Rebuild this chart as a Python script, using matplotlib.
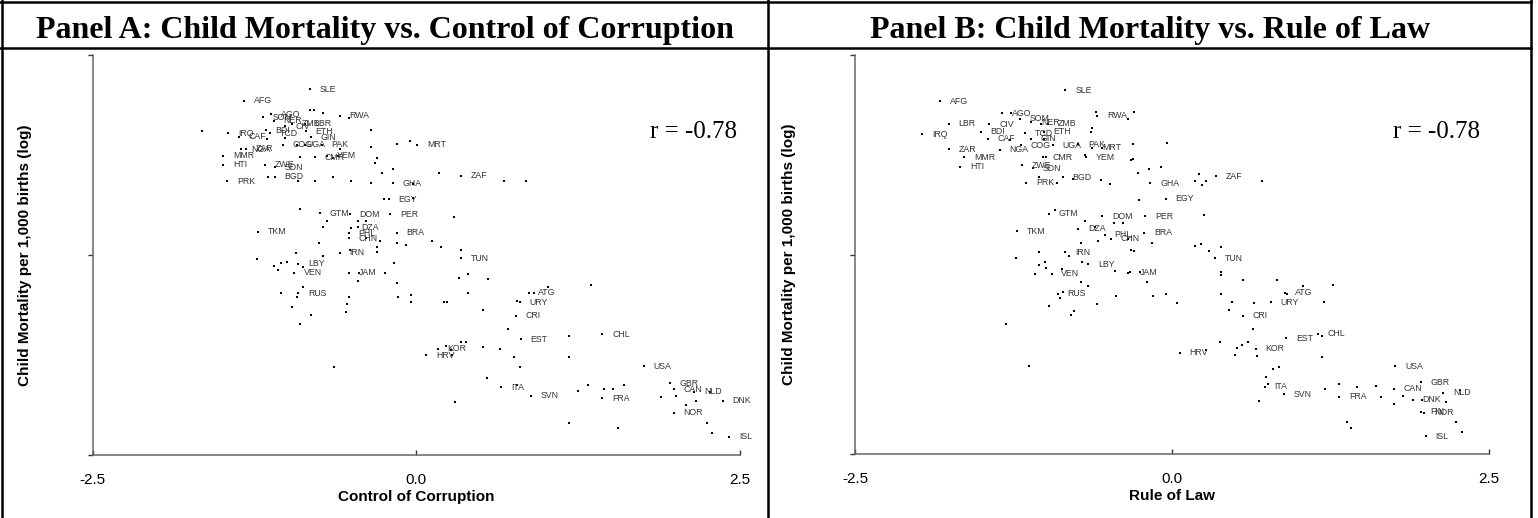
import matplotlib
matplotlib.use("Agg")
import matplotlib.pyplot as plt
from matplotlib.lines import Line2D

plt.rcParams['font.family'] = ['Liberation Sans', 'DejaVu Sans']

# ---- Panel A: control of corruption vs log child mortality ----
lab_a = ["SLE", "AFG", "", "", "", "RWA", "", "AGO", "SOM", "NER", "CIV", "ZMB", "LBR",
         "", "IRQ", "CAF", "BDI", "TCD", "", "", "ETH", "GIN", "", "COG", "UGA", "", "PAK",
         "", "", "", "NGA", "ZAR", "MMR", "HTI", "", "CMR", "YEM", "", "", "", "",
         "ZWE", "SDN", "", "", "", "BGD", "", "PRK", "", "", "", "", "GHA", "", "EGY",
         "", "GTM", "", "DOM", "", "", "PER", "", "DZA", "", "TKM", "PHL", "CHN", "", "",
         "BRA", "", "", "", "", "IRN", "", "", "", "", "", "", "", "LBY", "", "", "VEN",
         "JAM", "", "", "", "", "", "", "RUS", "", "", "", "", "", "", "", "", "", "",
         "", "MRT", "", "ZAF", "", "", "", "", "", "", "", "", "", "TUN", "", "", "", "",
         "", "ATG", "", "", "", "", "", "", "", "URY", "", "CRI", "", "EST", "", "CHL",
         "", "", "KOR", "", "", "", "", "HRV", "", "", "", "", "USA", "", "", "ITA", "SVN",
         "", "", "", "", "", "FRA", "GBR", "CAN", "", "", "NLD", "", "", "DNK", "", "NOR",
         "", "", "", "", "", "ISL"]
cc_a = [-0.82, -1.33, -0.82, -0.79, -0.72, -0.59, -0.52, -1.12, -1.18, -1.10, -1.01, -0.96, -0.86,
        -1.65, -1.45, -1.37, -1.16, -1.13, -1.15, -1.01, -0.85, -0.81, -0.35, -1.03, -0.92, -0.86, -0.73,
        -0.59, -0.35, -0.15, -1.35, -1.31, -1.49, -1.49, -0.90, -0.78, -0.69, -0.64, -0.60, -0.30, -0.32,
        -1.17, -1.09, -0.18, -0.26, -1.14, -1.09, -0.91, -1.46, -0.78, -0.64, -0.50, -0.35, -0.18, -0.25, -0.21,
        -0.90, -0.74, -0.69, -0.51, -0.45, -0.39, -0.20, -0.72, -0.50, -0.45, -1.22, -0.52, -0.52, -0.39, -0.28,
        -0.15, -0.15, -0.75, -0.93, -0.72, -0.59, -0.51, -0.30, -0.30, -1.23, -1.10, -1.04, -1.00, -0.91, -0.87, -1.07, -0.94,
        -0.52, -0.44, -0.24, -0.17, -0.15, -0.87, -1.04, -0.91, -0.92, -0.52, -0.45, -0.14, -0.96, -0.53, -0.54, -0.81, -0.90, -0.63,
        -0.05, 0.01, 0.18, 0.35, 0.68, 0.85, -0.02, -0.02, 0.29, -0.08, 0.12, 0.19, 0.35, 0.35, 0.33, 0.40, 0.56, 1.35,
        1.02, 0.87, 0.91, -0.04, 0.40, -0.04, 0.22, 0.24, 0.78, 0.80, 0.52, 0.77, 0.71, 0.81, 1.18, 1.44,
        0.35, 0.39, 0.17, 0.23, 0.27, 0.52, 0.65, 0.08, 0.28, 0.76, 1.18, 0.80, 1.76, 0.55, 0.78, 0.66, 0.89,
        1.25, 1.33, 1.45, 1.52, 1.61, 1.44, 1.96, 1.99, 1.89, 2.01, 2.15, 2.27, 2.16, 2.37, 2.09, 1.99,
        0.30, 1.18, 1.56, 2.25, 2.29, 2.42]
cm_a = [5.57, 5.43, 5.31, 5.31, 5.27, 5.24, 5.21, 5.26, 5.22, 5.18, 5.11, 5.14, 5.14,
        5.05, 5.02, 4.98, 5.06, 5.02, 4.95, 4.96, 5.05, 4.97, 5.06, 4.88, 4.88, 4.88, 4.88,
        4.82, 4.85, 4.89, 4.82, 4.83, 4.74, 4.63, 4.72, 4.72, 4.74, 4.71, 4.74, 4.71, 4.65,
        4.63, 4.60, 4.58, 4.52, 4.48, 4.48, 4.42, 4.42, 4.43, 4.47, 4.43, 4.40, 4.40, 4.20, 4.20,
        4.07, 4.02, 3.93, 4.01, 3.92, 3.92, 4.01, 3.85, 3.84, 3.85, 3.79, 3.77, 3.71, 3.71, 3.68,
        3.78, 3.65, 3.65, 3.53, 3.49, 3.53, 3.56, 3.60, 3.54, 3.45, 3.36, 3.40, 3.41, 3.39, 3.35, 3.31, 3.28,
        3.28, 3.28, 3.28, 3.40, 3.15, 3.10, 3.03, 3.02, 2.98, 2.98, 3.17, 2.98, 2.85, 2.89, 2.79, 2.75, 2.64, 2.10,
        4.93, 4.88, 4.52, 4.49, 4.43, 4.43, 4.39, 4.21, 3.98, 3.63, 3.68, 3.60, 3.56, 3.46, 3.21, 3.26, 3.20, 3.13,
        3.10, 3.03, 3.02, 3.00, 3.02, 2.91, 2.91, 2.91, 2.93, 2.91, 2.81, 2.74, 2.58, 2.45, 2.49, 2.51,
        2.41, 2.41, 2.33, 2.36, 2.31, 2.35, 2.32, 2.25, 2.25, 2.22, 2.22, 2.10, 2.11, 1.96, 1.88, 1.85, 1.74,
        1.80, 1.88, 1.82, 1.83, 1.87, 1.71, 1.90, 1.82, 1.73, 1.74, 1.79, 1.79, 1.68, 1.68, 1.62, 1.53,
        1.66, 1.40, 1.34, 1.40, 1.28, 1.23]

# ---- Panel B: rule of law vs log child mortality ----
lab_b = ["SLE", "AFG", "AGO", "", "SOM", "", "RWA", "", "", "LBR", "CIV", "NER", "", "ZMB",
         "IRQ", "BDI", "TCD", "ETH", "", "", "", "CAF", "", "ZAR", "NGA", "COG", "GIN", "UGA",
         "PAK", "MRT", "", "", "", "MMR", "CMR", "", "", "YEM", "", "", "HTI", "ZWE", "SDN",
         "", "", "", "PRK", "", "", "BGD", "", "", "", "GHA", "", "EGY", "GTM", "", "", "DOM",
         "", "", "PER", "TKM", "DZA", "", "PHL", "CHN", "", "", "BRA", "", "", "", "", "IRN",
         "", "", "", "", "", "", "", "LBY", "", "VEN", "", "", "", "JAM", "", "", "", "", "RUS",
         "", "", "", "", "", "", "", "", "", "", "", "", "", "", "", "ZAF", "", "", "", "", "",
         "", "TUN", "", "", "", "", "", "", "ATG", "", "", "", "", "", "URY", "", "", "CRI",
         "", "EST", "CHL", "", "", "", "", "", "HRV", "", "", "KOR", "", "", "", "", "USA", "",
         "", "ITA", "SVN", "", "", "", "FRA", "", "", "", "CAN", "", "", "DNK", "GBR", "", "NLD",
         "", "", "FIN", "NOR", "", "", "", "", "ISL"]
rl_b = [-0.84, -1.83, -1.34, -1.27, -1.20, -0.60, -0.59, -0.35, -0.30, -1.76, -1.44, -1.11, -1.03, -0.98,
        -1.97, -1.51, -1.16, -1.01, -1.01, -0.63, -0.64, -1.45, -1.28, -1.76, -1.36, -1.19, -1.11, -0.94,
        -0.74, -0.63, -0.55, -0.31, -0.04, -1.64, -1.02, -0.99, -0.69, -0.68, -0.32, -0.31, -1.67, -1.18, -1.10,
        -0.18, -0.09, -0.27, -1.15, -1.05, -0.91, -0.86, -0.78, -0.56, -0.49, -0.17, -0.26, -0.05, -0.97, -0.92, -0.69, -0.55,
        -0.46, -0.39, -0.21, -1.22, -0.74, -0.61, -0.53, -0.48, -0.58, -0.35, -0.22, -0.16, -0.72, -0.32, -0.30, -0.84,
        -0.81, -1.05, -1.23, -1.05, -1.00, -0.99, -0.71, -0.66, -1.08, -0.95, -0.87, -0.45, -0.35, -0.33, -0.25, -0.20, -0.72, -0.66, -0.90,
        -0.86, -0.88, -0.44, -0.15, -0.05, -0.97, -0.59, -0.80, -0.77, -1.31, -1.13, 0.21, 0.18, 0.24, 0.27, 0.35, 0.71,
        0.25, 0.18, 0.23, 0.29, 0.39, 0.34, 0.39, 0.39, 0.56, 0.83, 1.03, 1.27, 0.89, 0.91, 0.39, 0.04, 0.47, 0.65, 0.78, 1.20, 0.45, 0.56,
        0.64, 0.90, 1.15, 1.18, 0.38, 0.51, 0.55, 0.60, 0.06, 0.27, 0.50, 0.66, 0.67, 1.18, 0.80, 0.84, 1.76, 0.74,
        0.76, 0.73, 0.88, 0.69, 1.21, 1.32, 1.32, 1.46, 1.61, 1.65, 1.75, 1.75, 1.82, 1.90, 1.96, 1.97, 2.14,
        2.27, 2.16, 1.96, 1.99, 1.38, 1.41, 2.24, 2.29, 2.00]
cm_b = [5.56, 5.42, 5.27, 5.27, 5.20, 5.29, 5.24, 5.20, 5.29, 5.14, 5.13, 5.16, 5.14, 5.14,
        5.01, 5.04, 5.02, 5.04, 4.95, 5.09, 5.04, 4.95, 4.93, 4.82, 4.81, 4.87, 4.95, 4.87,
        4.88, 4.84, 4.84, 4.88, 4.90, 4.72, 4.72, 4.72, 4.75, 4.72, 4.68, 4.70, 4.60, 4.62, 4.58,
        4.57, 4.60, 4.52, 4.40, 4.47, 4.40, 4.47, 4.45, 4.43, 4.38, 4.39, 4.18, 4.20, 4.01, 4.06, 3.92, 3.98,
        3.90, 3.90, 3.98, 3.79, 3.82, 3.84, 3.75, 3.70, 3.67, 3.70, 3.77, 3.64, 3.64, 3.56, 3.54, 3.53,
        3.48, 3.53, 3.45, 3.37, 3.40, 3.33, 3.40, 3.38, 3.25, 3.26, 3.32, 3.29, 3.27, 3.28, 3.28, 3.15, 3.16, 3.10, 3.01,
        3.03, 2.96, 2.98, 2.98, 3.00, 2.85, 2.88, 2.74, 2.79, 2.63, 2.10, 4.51, 4.42, 4.37, 4.42, 4.48, 4.42,
        3.99, 3.61, 3.63, 3.55, 3.59, 3.45, 3.28, 3.24, 3.18, 3.18, 3.10, 3.12, 3.02, 3.01, 3.01, 2.89, 2.90, 2.89, 2.90, 2.90, 2.81, 2.73,
        2.57, 2.45, 2.51, 2.48, 2.40, 2.33, 2.37, 2.40, 2.27, 2.30, 2.24, 2.32, 2.23, 2.22, 2.07, 2.09, 2.10, 1.97,
        1.88, 1.84, 1.75, 1.66, 1.81, 1.88, 1.72, 1.84, 1.85, 1.72, 1.82, 1.63, 1.73, 1.68, 1.90, 1.68, 1.77,
        1.80, 1.65, 1.53, 1.52, 1.40, 1.33, 1.40, 1.27, 1.22]

titles = ["Panel A: Child Mortality vs. Control of Corruption",
          "Panel B: Child Mortality vs. Rule of Law"]
xlabels = ["Control of Corruption", "Rule of Law"]
r_text = "r = -0.78"


def draw_panel(ax, xs, ys, labels, xlabel, r_x):
    ax.scatter(xs, ys, s=4.5, c='black', marker='s', linewidths=0, zorder=3)
    for lab, x, y in zip(labels, xs, ys):
        if lab:
            ax.annotate(lab, (x, y), xytext=(7, 0), textcoords='offset points',
                        va='center', ha='left', fontsize=6.3, color='#333333')
    ax.set_xlim(-2.5, 2.5)
    ax.set_ylim(1, 6)
    ax.set_xticks([-2.5, 0, 2.5])
    ax.set_xticklabels(['-2.5', '0.0', '2.5'])
    ax.set_yticks([1, 3.5, 6])
    ax.set_yticklabels([])
    for s in ['top', 'right']:
        ax.spines[s].set_visible(False)
    for s in ['left', 'bottom']:
        ax.spines[s].set_color('#666666')
        ax.spines[s].set_linewidth(1.1)
    ax.tick_params(axis='x', direction='in', length=3.5, width=1, color='#333333',
                   labelsize=11, pad=13)
    ax.tick_params(axis='y', direction='out', length=3.5, width=1, color='#333333')
    ax.set_xlabel(xlabel, fontsize=11, fontweight='bold', labelpad=2)
    ax.set_ylabel("Child Mortality per 1,000 births (log)", fontsize=11, fontweight='bold')
    ax.yaxis.set_label_coords(-0.093, 0.5)
    ax.text(r_x, 0.8075, r_text, transform=ax.transAxes, ha='right', va='center',
            fontsize=18, family='Liberation Serif')


fig = plt.figure(figsize=(15.38, 5.18), dpi=100)
W, H = 1538.0, 518.0

ax1 = fig.add_axes([92.5 / W, 1 - 455 / H, 647 / W, 400 / H])
draw_panel(ax1, cc_a, cm_a, lab_a, xlabels[0], 0.996)
ax2 = fig.add_axes([855 / W, 1 - 454 / H, 634 / W, 399 / H])
draw_panel(ax2, rl_b, cm_b, lab_b, xlabels[1], 0.986)

# title boxes and frame
fig.text(385 / W, 1 - 38.3 / H, titles[0], ha='center', va='baseline',
         fontsize=23, fontweight='bold', family='Liberation Serif')
fig.text(1150 / W, 1 - 38.3 / H, titles[1], ha='center', va='baseline',
         fontsize=23, fontweight='bold', family='Liberation Serif')
lw = 1.8
for xs_, ys_ in [([0, 1531 / W], [1 - 1.7 / H] * 2),
                 ([0, 1531 / W], [1 - 47.7 / H] * 2),
                 ([1.7 / W] * 2, [0, 1]),
                 ([768 / W] * 2, [0, 1]),
                 ([1531 / W] * 2, [0, 1])]:
    fig.add_artist(Line2D(xs_, ys_, color='black', linewidth=lw, transform=fig.transFigure))

fig.savefig("out.png", dpi=100)
